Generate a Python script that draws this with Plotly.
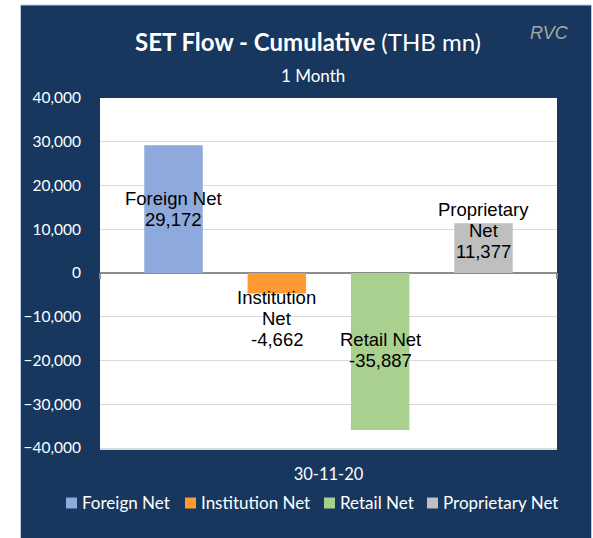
import plotly.graph_objects as go

# ---- data ----
categories = ["30-11-20"]
series_names = ["Foreign Net", "Institution Net", "Retail Net", "Proprietary Net"]
series_values = [29172, -4662, -35887, 11377]
y_ticks = [-40000, -30000, -20000, -10000, 0, 10000, 20000, 30000, 40000]

# ---- style ----
colors = ["#8EA9DB", "#FF9A33", "#A9D08E", "#BFBFBF"]
label_lines = [["Foreign Net"], ["Institution", "Net"], ["Retail Net"], ["Proprietary", "Net"]]
label_block_shift = [0, -35, 2, 18]   # px shift of label block from bar centre
legend_square_px = [66, 185, 324, 427]  # legend item left edges (px)
NAVY = "#17375E"
W, H = 593, 538
ML, MR, MT, MB = 100, 36, 98, 90
PW = W - ML - MR
PH = H - MT - MB
BARGAP = 0.0956
BARGROUPGAP = 0.434

fig = go.Figure()
for name, val, col in zip(series_names, series_values, colors):
    fig.add_trace(go.Bar(x=categories, y=[val], name=name, marker_color=col,
                         marker_line_width=0, hoverinfo="skip", showlegend=False))

def fx(xpix):
    return (xpix - ML) / PW

def fy(ypix):
    return (H - MB - ypix) / PH

annotations = []
shapes = []
slot = PW * (1 - BARGAP) / len(series_names)
line_h = 21
nser = len(series_names)
for i, (val, lines) in enumerate(zip(series_values, label_lines)):
    allines = lines + [f"{val:,}"]
    n = len(allines)
    xs = (i - (nser - 1) / 2) * slot
    for j, t in enumerate(allines):
        ys = label_block_shift[i] + ((n - 1) / 2 - j) * line_h
        annotations.append(dict(x=categories[0], y=val / 2, xref="x", yref="y",
                                text=t, showarrow=False, xshift=xs, yshift=ys,
                                font=dict(family="Liberation Sans, Arial", size=18.5, color="black"),
                                xanchor="center", yanchor="middle"))

# manual legend (one row)
LEG_Y = 503
SQ = 11
for name, col, x0 in zip(series_names, colors, legend_square_px):
    shapes.append(dict(type="rect", xref="paper", yref="paper",
                       x0=fx(x0), x1=fx(x0 + SQ), y0=fy(LEG_Y + SQ / 2), y1=fy(LEG_Y - SQ / 2),
                       fillcolor=col, line_width=0))
    annotations.append(dict(x=fx(x0 + SQ + 3), y=fy(LEG_Y), xref="paper", yref="paper",
                            text=name, showarrow=False, xanchor="left", yanchor="middle",
                            font=dict(family="Lato", size=17, color="white")))

annotations.append(dict(x=fx(313), y=fy(75), xref="paper", yref="paper",
                        text="1 Month", showarrow=False,
                        font=dict(family="Lato", size=17, color="white"),
                        xanchor="center", yanchor="middle"))
annotations.append(dict(x=fx(549), y=fy(33), xref="paper", yref="paper",
                        text="<i>RVC</i>", showarrow=False,
                        font=dict(family="Liberation Sans, Arial", size=18, color="#A6A6A6"),
                        xanchor="center", yanchor="middle"))
annotations.append(dict(x=fx(308), y=fy(41), xref="paper", yref="paper",
                        text="<b>SET Flow - Cumulative</b> (THB mn)", showarrow=False,
                        font=dict(family="Lato", size=24, color="white"),
                        xanchor="center", yanchor="middle"))

shapes += [
    dict(type="rect", xref="paper", yref="paper", x0=fx(0), x1=fx(20.5),
         y0=fy(H), y1=fy(0), fillcolor="white", line_width=0, layer="below"),
    dict(type="rect", xref="paper", yref="paper", x0=fx(0), x1=fx(W),
         y0=fy(5), y1=fy(0), fillcolor="white", line_width=0, layer="below"),
    dict(type="rect", xref="paper", yref="paper", x0=fx(591.5), x1=fx(W),
         y0=fy(H), y1=fy(0), fillcolor="white", line_width=0, layer="below"),
    dict(type="rect", xref="paper", yref="paper", x0=fx(20.5), x1=fx(591.5),
         y0=fy(H + 2), y1=fy(5), fillcolor="rgba(0,0,0,0)",
         line=dict(color="#B8CCE4", width=1), layer="below"),
    # small tick marks where the category axis meets the plot edges
    dict(type="line", xref="paper", yref="paper", x0=0, x1=0,
         y0=fy(273), y1=fy(279), line=dict(color="#8C8C8C", width=2)),
    dict(type="line", xref="paper", yref="paper", x0=1, x1=1,
         y0=fy(273), y1=fy(279), line=dict(color="#8C8C8C", width=2)),
]

fig.update_layout(
    width=W, height=H,
    margin=dict(l=ML, r=MR, t=MT, b=MB, pad=0, autoexpand=False),
    paper_bgcolor=NAVY, plot_bgcolor="white",
    barmode="group", bargap=BARGAP, bargroupgap=BARGROUPGAP,
    font=dict(family="Lato", size=16, color="white"),
    showlegend=False,
    annotations=annotations,
    shapes=shapes,
)
fig.update_yaxes(range=[-40000, 40000], tickvals=y_ticks, tickformat=",",
                 showgrid=True, gridcolor="#D9D9D9", gridwidth=1,
                 zeroline=True, zerolinecolor="#8C8C8C", zerolinewidth=2,
                 ticks="", ticklabelstandoff=18, showline=False,
                 tickfont=dict(family="Lato", size=15.5, color="white"))
fig.update_xaxes(type="category", showgrid=False, showline=True, linecolor="#D9D9D9",
                 linewidth=2, ticks="", tickfont=dict(family="Lato", size=16.5, color="white"),
                 ticklabelstandoff=10)

fig.write_html("out.html", config={"displayModeBar": False},
               post_script="document.body.style.margin='0';document.body.style.overflow='hidden';")
